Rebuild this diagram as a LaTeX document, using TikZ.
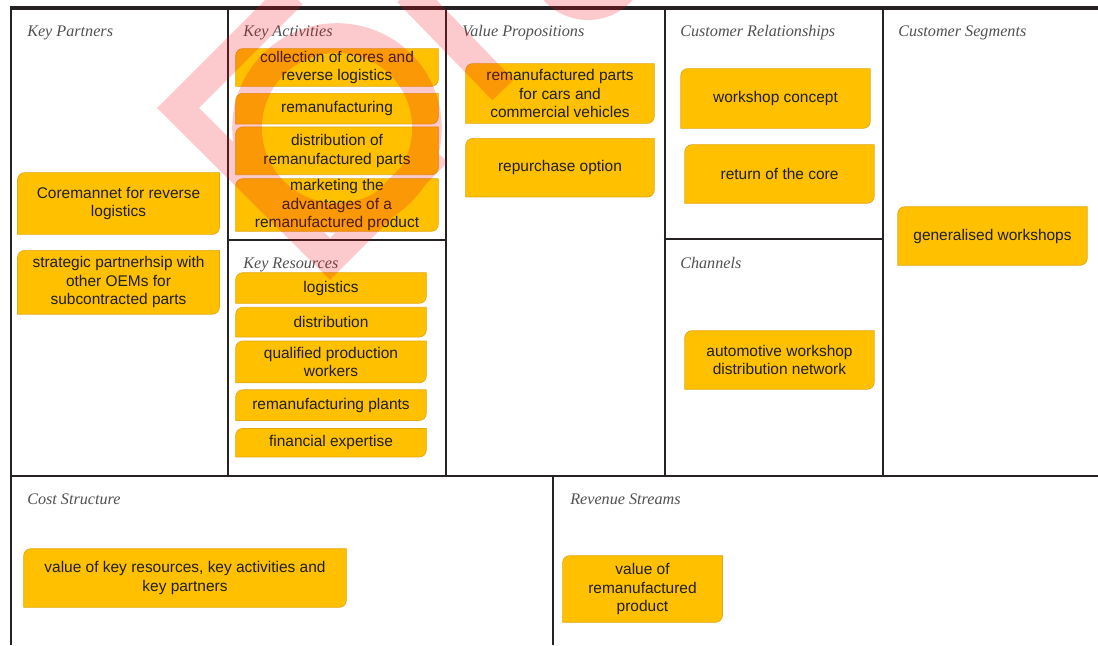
\documentclass[tikz,border=0pt]{standalone}
\usepackage{fontspec}
\setmainfont{Liberation Sans}
\newfontfamily\bmcserif{Liberation Serif}
\usetikzlibrary{positioning,backgrounds}
\definecolor{bmcYellow}{RGB}{255,192,0}
\definecolor{bmcEdge}{RGB}{226,168,18}
\definecolor{bmcLine}{RGB}{38,34,35}
\definecolor{bmcGrey}{RGB}{80,80,80}
\definecolor{bmcStamp}{RGB}{240,10,25}

\tikzset{
  card/.style={inner sep=0pt, align=center, font=\fontsize{11}{13.2}\selectfont, text=black!88},
  cardbg/.style={fill=bmcYellow, draw=bmcEdge, line width=0.5pt},
  celltitle/.style={anchor=base west, inner sep=0pt, font=\bmcserif\itshape\fontsize{11.5}{13}\selectfont, text=bmcGrey},
  bmcline/.style={draw=bmcLine, line width=2.1pt},
  stamp/.style={draw=bmcStamp, line width=0.74cm, line join=miter}
}

\begin{document}
\begin{tikzpicture}[x=0.025cm, y=-0.025cm]
  \useasboundingbox (0,0) rectangle (1098,645);

  % canvas frame
  \draw[bmcline, line width=3.2pt] (9.5,8) -- (1098,8);
  \draw[bmcline] (11,8) -- (11,645);
  \draw[bmcline] (228,8) -- (228,476);
  \draw[bmcline] (446,8) -- (446,476);
  \draw[bmcline] (665,8) -- (665,476);
  \draw[bmcline] (883,8) -- (883,476);
  \draw[bmcline] (11,476) -- (1098,476);
  \draw[bmcline] (228,240) -- (446,240);
  \draw[bmcline] (665,239) -- (883,239);
  \draw[bmcline] (553,476) -- (553,645);

  \node[celltitle] (tKP) at (27,36.5) {Key Partners};
  \node[celltitle] (tKA) at (243,36.5) {Key Activities};
  \node[celltitle] (tVP) at (462,36.5) {Value Propositions};
  \node[celltitle] (tCR) at (680,36.5) {Customer Relationships};
  \node[celltitle] (tCS) at (898,36.5) {Customer Segments};
  \node[celltitle] (tKR) at (243,268) {Key Resources};
  \node[celltitle] (tCH) at (680,268) {Channels};
  \node[celltitle] (tCO) at (27,504) {Cost Structure};
  \node[celltitle] (tRS) at (570,504) {Revenue Streams};

  \node[card, minimum width=5.03cm, minimum height=1.53cm] (kp1) at (118.5,203.5) {Coremannet for reverse\\logistics};
  \node[card, minimum width=5.03cm, minimum height=1.58cm, below=0.4cm of kp1] (kp2) {strategic partnerhsip with\\other OEMs for\\subcontracted parts};

  \node[card, minimum width=5.05cm, minimum height=0.93cm] (ka1) at (337,67.5) {collection of cores and\\reverse logistics};
  \node[card, minimum width=5.05cm, minimum height=0.75cm, below=0.175cm of ka1] (ka2) {remanufacturing};
  \node[card, minimum width=5.05cm, minimum height=1.18cm, below=0.075cm of ka2] (ka3) {distribution of\\remanufactured parts};
  \node[card, minimum width=5.05cm, minimum height=1.3cm, below=0.1cm of ka3] (ka4) {marketing the\\advantages of a\\remanufactured product};

  \node[card, minimum width=4.75cm, minimum height=0.75cm] (kr1) at (331,288) {logistics};
  \node[card, minimum width=4.75cm, minimum height=0.73cm, below=0.1cm of kr1] (kr2) {distribution};
  \node[card, minimum width=4.75cm, minimum height=1.03cm, below=0.1cm of kr2] (kr3) {qualified production\\workers};
  \node[card, minimum width=4.75cm, minimum height=0.75cm, below=0.175cm of kr3] (kr4) {remanufacturing plants};
  \node[card, minimum width=4.75cm, minimum height=0.7cm, below=0.2cm of kr4] (kr5) {financial expertise};

  \node[card, minimum width=4.7cm, minimum height=1.48cm] (vp1) at (560,93.5) {remanufactured parts\\for cars and\\commercial vehicles};
  \node[card, minimum width=4.7cm, minimum height=1.45cm, below=0.375cm of vp1] (vp2) {repurchase option};

  \node[card, minimum width=4.72cm, minimum height=1.48cm] (cr1) at (775.5,98.5) {workshop concept};
  \node[card, minimum width=4.72cm, minimum height=1.45cm] (cr2) at (779.5,174) {return of the core};
  \node[card, minimum width=4.72cm, minimum height=1.45cm] (ch1) at (779.5,360) {automotive workshop\\distribution network};
  \node[card, minimum width=4.72cm, minimum height=1.45cm] (cs1) at (992.5,236) {generalised workshops};

  \node[card, minimum width=8.05cm, minimum height=1.45cm] (co1) at (185,578) {value of key resources, key activities and\\key partners};
  \node[card, minimum width=3.98cm, minimum height=1.65cm] (rs1) at (642.5,589) {value of\\remanufactured\\product};

  % sticky notes behind the texts
  \begin{pgfonlayer}{background}
    \foreach \n in {kp1,kp2,ka1,ka2,ka3,ka4,kr1,kr2,kr3,kr4,kr5,vp1,vp2,cr1,cr2,ch1,cs1,co1,rs1}
      \draw[cardbg] (\n.south west) -- ([yshift=-5pt]\n.north west) arc[start angle=180, end angle=90, radius=5pt]
        -- (\n.north east) -- ([yshift=5pt]\n.south east) arc[start angle=0, end angle=-90, radius=5pt] -- cycle;
  \end{pgfonlayer}

  % stamp over the sheet
  \begin{scope}[transparency group, opacity=0.22]
    \clip (0,0) rectangle (1098,645);
    \draw[stamp] (292,-6) -- (178,108) -- (330,259) -- (437,152);
    \draw[stamp] (337,128) circle[radius=90];
    \draw[stamp] (408,-8) -- (503,90);
    \fill[bmcStamp] (588,-40) circle[radius=60];
  \end{scope}
\end{tikzpicture}
\end{document}
